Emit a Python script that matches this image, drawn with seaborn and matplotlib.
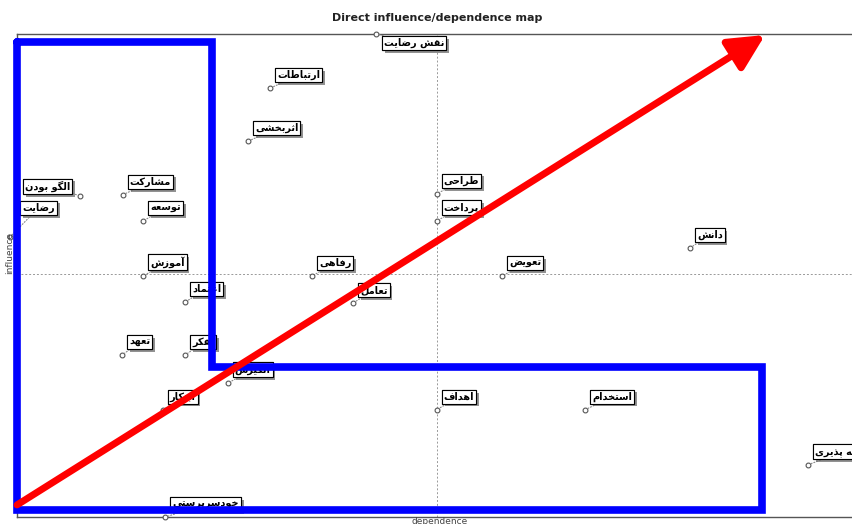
import matplotlib
matplotlib.use("Agg")
import matplotlib.pyplot as plt
import matplotlib.patheffects as pe
import seaborn as sns
import pandas as pd

# MICMAC direct influence / dependence map
labels = ["نقش رضایت", "ارتباطات", "اثربخشی", "الگو بودن", "مشارکت", "رضایت",
          "توسعه", "آموزش", "طراحی", "پرداخت", "رفاهی", "تعویض", "دانش",
          "تعامل", "اعتماد", "تعهد", "تفکر", "انگیزش", "ابتکار", "اهداف",
          "استخدام", "جامعه پذیری", "خودسرپرستی"]
dependence = [42.1, 29.7, 27.1, 7.4, 12.4, -0.8, 14.8, 14.8, 49.2, 49.2, 34.6,
              56.9, 78.9, 39.4, 19.7, 12.3, 19.7, 24.7, 17.1, 49.2, 66.6, 92.7, 17.4]
influence = [100.0, 88.8, 77.8, 66.5, 66.7, 58.0, 61.3, 49.9, 66.9, 61.3, 49.9,
             49.9, 55.7, 44.3, 44.5, 33.5, 33.5, 27.7, 22.2, 22.2, 22.2, 10.8, 0.0]

# average lines of the map
mean_dep = 49.2
mean_inf = 50.3

# hand-drawn overlay: blue region outline and red diagonal arrow
region_x = [0, 22.9, 22.9, 87.3, 87.3, 0, 0]
region_y = [98.3, 98.3, 31.0, 31.0, 1.4, 1.4, 98.3]
arrow_start = (0, 2.5)
arrow_end = (87.7, 99.8)

# --- simple Persian shaping (matplotlib has no complex text layout) ---
FORMS = {
    "ا": ("\ufe8d", "\ufe8e"), "آ": ("\ufe81", "\ufe82"),
    "ب": ("\ufe8f", "\ufe90", "\ufe91", "\ufe92"), "پ": ("\ufb56", "\ufb57", "\ufb58", "\ufb59"),
    "ت": ("\ufe95", "\ufe96", "\ufe97", "\ufe98"), "ث": ("\ufe99", "\ufe9a", "\ufe9b", "\ufe9c"),
    "ج": ("\ufe9d", "\ufe9e", "\ufe9f", "\ufea0"), "چ": ("\ufb7a", "\ufb7b", "\ufb7c", "\ufb7d"),
    "ح": ("\ufea1", "\ufea2", "\ufea3", "\ufea4"), "خ": ("\ufea5", "\ufea6", "\ufea7", "\ufea8"),
    "د": ("\ufea9", "\ufeaa"), "ذ": ("\ufeab", "\ufeac"), "ر": ("\ufead", "\ufeae"),
    "ز": ("\ufeaf", "\ufeb0"), "ژ": ("\ufb8a", "\ufb8b"),
    "س": ("\ufeb1", "\ufeb2", "\ufeb3", "\ufeb4"), "ش": ("\ufeb5", "\ufeb6", "\ufeb7", "\ufeb8"),
    "ص": ("\ufeb9", "\ufeba", "\ufebb", "\ufebc"), "ض": ("\ufebd", "\ufebe", "\ufebf", "\ufec0"),
    "ط": ("\ufec1", "\ufec2", "\ufec3", "\ufec4"), "ظ": ("\ufec5", "\ufec6", "\ufec7", "\ufec8"),
    "ع": ("\ufec9", "\ufeca", "\ufecb", "\ufecc"), "غ": ("\ufecd", "\ufece", "\ufecf", "\ufed0"),
    "ف": ("\ufed1", "\ufed2", "\ufed3", "\ufed4"), "ق": ("\ufed5", "\ufed6", "\ufed7", "\ufed8"),
    "ک": ("\ufb8e", "\ufb8f", "\ufb90", "\ufb91"), "گ": ("\ufb92", "\ufb93", "\ufb94", "\ufb95"),
    "ل": ("\ufedd", "\ufede", "\ufedf", "\ufee0"), "م": ("\ufee1", "\ufee2", "\ufee3", "\ufee4"),
    "ن": ("\ufee5", "\ufee6", "\ufee7", "\ufee8"), "و": ("\ufeed", "\ufeee"),
    "ه": ("\ufee9", "\ufeea", "\ufeeb", "\ufeec"), "ی": ("\ufbfc", "\ufbfd", "\ufbfe", "\ufbff"),
}


def shape(word):
    out = []
    for i, ch in enumerate(word):
        if ch not in FORMS:
            out.append(ch)
            continue
        prev = word[i - 1] if i > 0 else ""
        nxt = word[i + 1] if i + 1 < len(word) else ""
        join_prev = prev in FORMS and len(FORMS[prev]) == 4
        join_next = nxt in FORMS and len(FORMS[ch]) == 4
        f = FORMS[ch]
        if join_prev and join_next:
            out.append(f[3])
        elif join_prev:
            out.append(f[1])
        elif join_next:
            out.append(f[2])
        else:
            out.append(f[0])
    return "".join(out)[::-1]


df = pd.DataFrame({"label": labels, "dependence": dependence, "influence": influence})

sns.set_style("white")
plt.rcParams["font.family"] = ["DejaVu Sans"]

fig = plt.figure(figsize=(8.53, 5.24), dpi=100)
ax = fig.add_axes([17 / 853, 7 / 524, 1.0, 483 / 524])
ax.set_xlim(0, 100)
ax.set_ylim(0, 100)

for side in ["top", "bottom", "left", "right"]:
    ax.spines[side].set_color("#555555")
    ax.spines[side].set_linewidth(1.0)
ax.set_xticks([])
ax.set_yticks([])

ax.axvline(mean_dep, color="#999999", ls=(0, (2, 2)), lw=0.7, zorder=1)
ax.axhline(mean_inf, color="#999999", ls=(0, (2, 2)), lw=0.7, zorder=1)

sns.scatterplot(data=df, x="dependence", y="influence", ax=ax, marker="o", s=12,
                facecolor="white", edgecolor="#555555", linewidth=0.8,
                zorder=3, clip_on=False, legend=False)

# label placement: offset in pixels, horizontal and vertical anchor
special = {"رضایت": ((12, 24), "left", "bottom"),
           "نقش رضایت": ((8, -4), "left", "top"),
           "الگو بودن": ((-10, 4), "right", "bottom")}
for lab, x, y in zip(labels, dependence, influence):
    off, ha, va = special.get(lab, ((7, 8), "left", "bottom"))
    t = ax.annotate(shape(lab), (x, y), xytext=off, textcoords="offset pixels",
                    ha=ha, va=va, fontsize=7, fontweight="bold",
                    color="black", zorder=4, annotation_clip=False,
                    bbox=dict(boxstyle="square,pad=0.2", fc="white", ec="black", lw=0.8),
                    arrowprops=dict(arrowstyle="-", color="#888888", ls=":", lw=0.8,
                                    shrinkA=0, shrinkB=2))
    t.get_bbox_patch().set_path_effects([pe.withSimplePatchShadow(offset=(2, -2),
                                         shadow_rgbFace="#777777", alpha=0.8), pe.Normal()])

# overlay
ax.plot(region_x, region_y, color="#0000ff", lw=5.5, solid_joinstyle="miter",
        zorder=5, clip_on=False)
ax.annotate("", xy=arrow_end, xytext=arrow_start, zorder=6, annotation_clip=False,
            arrowprops=dict(arrowstyle="-|>,head_length=1.2,head_width=0.6",
                            color="#ff0000", lw=5, mutation_scale=18,
                            shrinkA=0, shrinkB=0))

fig.text(437 / 853, 1 - 18 / 524, "Direct influence/dependence map", ha="center",
         va="center", fontsize=8, fontweight="bold", color="#222222")
fig.text(10 / 853, 1 - 253 / 524, "influence", rotation=90, ha="center", va="center",
         fontsize=6.5, color="#444444")
fig.text(440 / 853, 1 - 521 / 524, "dependence", ha="center", va="center",
         fontsize=6.5, color="#444444")

fig.savefig("out.png", dpi=100)
plt.close(fig)
